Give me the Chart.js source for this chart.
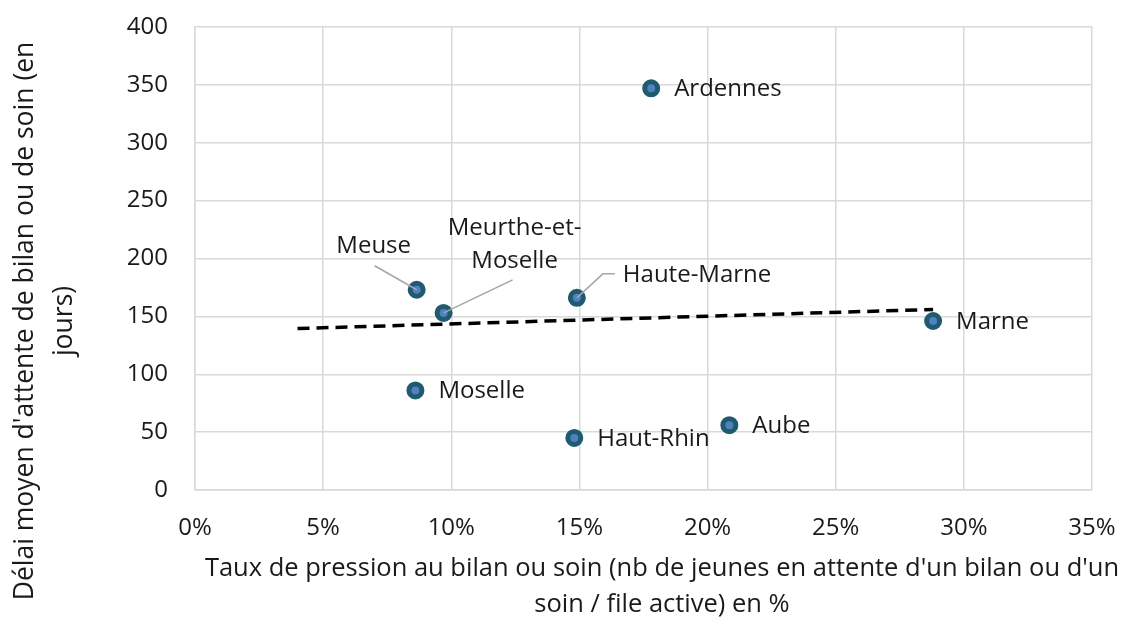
<!DOCTYPE html>
<html>
<head>
<meta charset="utf-8">
<script src="https://cdn.jsdelivr.net/npm/chart.js@4.4.1/dist/chart.umd.min.js"></script>
<style>
  body { margin: 0; background: #fff; }
  #wrap { width: 1122px; height: 618px; }
</style>
</head>
<body>
<div id="wrap"><canvas id="myChart" width="1122" height="618"></canvas></div>
<script>
// departements, taux de pression (%) et delai moyen (jours)
const departements = ['Ardennes', 'Meuse', 'Meurthe-et-Moselle', 'Haute-Marne', 'Marne', 'Moselle', 'Haut-Rhin', 'Aube'];
const tauxPression = [17.8, 8.65, 9.7, 14.9, 28.8, 8.6, 14.8, 20.85];
const delaiMoyen = [347, 173, 153, 166, 146, 86, 45, 56];

// courbe de tendance (extremites)
const tendanceX = [4, 28.8];
const tendanceY = [139.5, 156];

const xTicks = [0, 5, 10, 15, 20, 25, 30, 35];
const yTicks = [0, 50, 100, 150, 200, 250, 300, 350, 400];

const xTitle = ["Taux de pression au bilan ou soin (nb de jeunes en attente d'un bilan ou d'un", 'soin / file active) en %'];
const yTitle = ["Délai moyen d'attente de bilan ou de soin (en", 'jours)'];

const FONT = '"Open Sans", sans-serif';
const TEXT_COLOR = '#1a1a1a';

// placement des etiquettes (decalage en px par rapport au point)
const labelPlacement = {
  'Meuse': { dx: -43, dy: -44, align: 'center', leader: [[-42, -24]] },
  'Meurthe-et-Moselle': { dx: 71, dy: -85, align: 'center', lines: ['Meurthe-et-', 'Moselle'], leader: [[69, -33]] },
  'Haute-Marne': { dx: 46, dy: -23, align: 'left', leader: [[26, -24], [38, -24]] },
};

const pointsData = tauxPression.map((x, i) => ({ x, y: delaiMoyen[i] }));
const trendData = tendanceX.map((x, i) => ({ x, y: tendanceY[i] }));

const pointLabels = {
  id: 'pointLabels',
  afterDatasetsDraw(chart) {
    const { ctx } = chart;
    const meta = chart.getDatasetMeta(0);
    ctx.save();
    ctx.font = `24px ${FONT}`;
    ctx.fillStyle = TEXT_COLOR;
    ctx.textBaseline = 'middle';
    meta.data.forEach((pt, i) => {
      const name = departements[i];
      const place = labelPlacement[name] || { dx: 23, dy: 1, align: 'left' };
      if (place.leader) {
        ctx.strokeStyle = '#a6a6a6';
        ctx.lineWidth = 1.5;
        ctx.beginPath();
        ctx.moveTo(pt.x, pt.y);
        place.leader.forEach(([lx, ly]) => ctx.lineTo(pt.x + lx, pt.y + ly));
        ctx.stroke();
      }
      ctx.textAlign = place.align;
      const lines = place.lines || [name];
      lines.forEach((line, k) => {
        ctx.fillText(line, pt.x + place.dx, pt.y + place.dy + k * 33);
      });
    });
    ctx.restore();
  },
};

// titres des axes, dessines a la main pour coller a la mise en page Excel
const axisTitles = {
  id: 'axisTitles',
  afterDraw(chart) {
    const { ctx } = chart;
    ctx.save();
    ctx.fillStyle = TEXT_COLOR;
    ctx.textAlign = 'center';
    ctx.textBaseline = 'middle';
    ctx.font = `25.5px ${FONT}`;
    xTitle.forEach((line, k) => ctx.fillText(line, 662, 569 + k * 36));
    ctx.translate(25, 321);
    ctx.rotate(-Math.PI / 2);
    ctx.font = `26.5px ${FONT}`;
    yTitle.forEach((line, k) => ctx.fillText(line, 0, k * 39));
    ctx.restore();
  },
};

const chartElem = document.getElementById('myChart').getContext('2d');

new Chart(chartElem, {
  type: 'scatter',
  data: {
    datasets: [
      {
        label: 'Départements',
        data: pointsData,
        pointRadius: 6.5,
        pointHoverRadius: 6.5,
        borderWidth: 5,
        pointBorderWidth: 5,
        backgroundColor: '#4f81c0',
        borderColor: '#1f5a6e',
      },
      {
        label: 'Tendance',
        type: 'line',
        data: trendData,
        showLine: true,
        pointRadius: 0,
        borderColor: '#000',
        borderWidth: 3.5,
        borderDash: [12, 7],
        fill: false,
      },
    ],
  },
  options: {
    responsive: false,
    animation: false,
    layout: { padding: { top: 27, right: 30, left: 0, bottom: 0 } },
    plugins: {
      legend: { display: false },
      tooltip: { enabled: false },
    },
    scales: {
      x: {
        type: 'linear',
        min: 0,
        max: 35,
        afterBuildTicks: (scale) => { scale.ticks = xTicks.map((v) => ({ value: v })); },
        afterFit: (scale) => {
          scale.height = 128;
          scale.paddingLeft = 0;
          scale.paddingRight = 0;
        },
        grid: { color: '#d9d9d9', lineWidth: 1.5, drawTicks: false },
        border: { color: '#d9d9d9', width: 1.5 },
        ticks: {
          padding: 24,
          color: TEXT_COLOR,
          font: { family: FONT, size: 24 },
          callback: (v) => `${v}%`,
        },
      },
      y: {
        min: 0,
        max: 400,
        afterBuildTicks: (scale) => { scale.ticks = yTicks.map((v) => ({ value: v })); },
        afterFit: (scale) => {
          scale.width = 195;
          scale.paddingTop = 0;
          scale.paddingBottom = 0;
        },
        grid: { color: '#d9d9d9', lineWidth: 1.5, drawTicks: false },
        border: { color: '#d9d9d9', width: 1.5 },
        ticks: {
          padding: 27,
          color: TEXT_COLOR,
          font: { family: FONT, size: 24 },
        },
      },
    },
  },
  plugins: [pointLabels, axisTitles],
});
</script>
</body>
</html>
